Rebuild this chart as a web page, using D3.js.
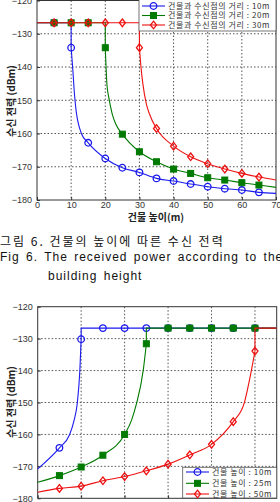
<!DOCTYPE html>
<meta charset="utf-8">
<style>

body {
  margin: 0;
  background: #fff;
}

svg {
  display: block;
  font-family: "Liberation Sans", Arial, "Noto Sans CJK KR", sans-serif;
}

.axis .tick text {
  font-size: 9px;
  fill: #333;
}

.axis .tick line,
.frame {
  stroke: #333;
}

.grid line {
  stroke: #555;
  stroke-dasharray: 1.5,2;
}

.label {
  font: bold 10px "Noto Sans CJK KR", sans-serif;
  fill: #222;
  text-anchor: middle;
}

.caption {
  font-size: 12px;
  fill: #111;
}

.legend text {
  font: 8px "Noto Sans CJK KR", sans-serif;
  fill: #333;
  letter-spacing: 0.6px;
}

</style>
<svg width="280" height="502"></svg>
<script src="https://d3js.org/d3.v7.min.js"></script>
<script>

// top chart: received power vs building height, one curve per building-receiver distance
var heights = [5, 10, 15, 20, 25, 30, 35, 40, 45, 50, 55, 60, 65];
var dist10 = [-126.7, -134.2, -162.8, -167.5, -170.3, -171.7, -173.5, -174.3, -175.2, -176.0, -176.6, -177.0, -177.7];
var dist20 = [-126.7, -126.7, -126.7, -134.2, -160.2, -165.5, -168.5, -170.7, -172.0, -173.3, -174.0, -174.8, -175.5];
var dist30 = [-126.7, -126.7, -126.7, -126.7, -126.7, -134.2, -158.5, -163.8, -167.0, -169.1, -170.7, -172.0, -173.1];
// line points between the markers (ends, corner, steep part)
var dist10Line = [[0, -126.7], [10, -126.7], [10.5, -141], [11, -148.5], [11.5, -153.5], [12, -156.5], [13, -160], [70, -178]];
var dist20Line = [[0, -126.7], [20, -126.7], [20.5, -145.5], [21, -149], [22, -154], [23, -157], [70, -176.2]];
var dist30Line = [[0, -126.7], [30, -126.7], [30.5, -140.5], [31, -145], [32, -151], [33, -154.3], [70, -174]];

// bottom chart: received power vs distance, one curve per building height
var distances = [5, 10, 15, 20, 25, 30, 35, 40, 45, 50];
var height10 = [-164.2, -130.2, -126.7, -126.7, -126.7, -126.7, -126.7, -126.7, -126.7, -126.7];
var height25 = [-172.9, -170.2, -166.5, -160.0, -131.6, -126.7, -126.7, -126.7, -126.7, -126.7];
var height50 = [-176.9, -176.2, -174.5, -173.2, -171.4, -169.3, -166.4, -163.1, -156.0, -133.9];
var height10Line = [[0, -170.8], [7.3, -160.2], [8.3, -156], [9.1, -150.3], [9.7, -140], [10, -126.7], [55, -126.7]];
var height25Line = [[0, -175], [21.6, -155.5], [22.75, -150.3], [24.3, -139.8], [25, -126.7], [55, -126.7]];
var height50Line = [[0, -178.1], [47.5, -150.3], [49.2, -139.8], [50, -126.7], [55, -126.7]];

var flatLevel = -126.7;
var yTicks = [-180, -170, -160, -150, -140, -130, -120];
var heightTicks = [0, 10, 20, 30, 40, 50, 60, 70];
var distTicks = [0, 10, 20, 30, 40, 50];
var legendTop = ["건물과 수신점의 거리 : 10m", "건물과 수신점의 거리 : 20m", "건물과 수신점의 거리 : 30m"];
var legendBottom = ["건물 높이 : 10m", "건물 높이 : 25m", "건물 높이 : 50m"];

var colors = ["#1a1aee", "#007a00", "#ee1111"],
    shapes = ["circle", "square", "diamond"];

var svg = d3.select("svg");

function marker(sel, shape, color) {
  if (shape == "circle") {
    sel.append("circle").attr("r", 3.3)
        .attr("fill", "none").attr("stroke", color).attr("stroke-width", 1.3);
  } else if (shape == "square") {
    sel.append("rect").attr("x", -3).attr("y", -3).attr("width", 6).attr("height", 6)
        .attr("fill", color).attr("stroke", color);
  } else {
    sel.append("path").attr("d", "M0,-3.8L3,0L0,3.8L-3,0Z")
        .attr("fill", "none").attr("stroke", color).attr("stroke-width", 1.3);
  }
}

function panel(box, xDomain, xTicks, showXLabels, curves, dir) {
  var x = d3.scaleLinear().domain(xDomain).range([box.left, box.right]),
      y = d3.scaleLinear().domain([-180, -120]).range([box.bottom, box.top]);

  var g = svg.append("g");

  g.append("rect").attr("x", box.left).attr("y", box.top)
      .attr("width", box.right - box.left).attr("height", box.bottom - box.top)
      .attr("fill", "#fff");

  var grid = g.append("g").attr("class", "grid");
  grid.selectAll(".gx")
    .data(xTicks.filter(function(d) { return d > xDomain[0] && d < xDomain[1]; }))
    .enter().append("line")
      .attr("x1", x).attr("x2", x).attr("y1", box.top).attr("y2", box.bottom);
  grid.selectAll(".gy")
    .data(yTicks.filter(function(d) { return d > -180 && d < -120; }))
    .enter().append("line")
      .attr("y1", y).attr("y2", y).attr("x1", box.left).attr("x2", box.right);

  g.append("g").attr("class", "axis")
      .attr("transform", "translate(" + box.left + ",0)")
      .call(d3.axisLeft(y).tickValues(yTicks).tickSizeInner(-3).tickSizeOuter(0).tickPadding(5))
      .call(function(a) { a.select(".domain").remove(); });

  g.append("g").attr("class", "axis")
      .attr("transform", "translate(0," + box.bottom + ")")
      .call(d3.axisBottom(x).tickValues(xTicks).tickSizeInner(-3).tickSizeOuter(0).tickPadding(2)
        .tickFormat(showXLabels ? d3.format("d") : function() { return ""; }))
      .call(function(a) { a.select(".domain").remove(); });

  g.append("rect").attr("class", "frame").attr("x", box.left).attr("y", box.top)
      .attr("width", box.right - box.left).attr("height", box.bottom - box.top)
      .attr("fill", "none");

  var curveLine = d3.line().x(function(d) { return x(d[0]); }).y(function(d) { return y(d[1]); })
      .curve(d3.curveMonotoneX);
  var straight = d3.line().x(function(d) { return x(d[0]); }).y(function(d) { return y(d[1]); });

  curves.forEach(function(c, i) {
    var marks = c.xs.map(function(v, j) { return [v, c.ys[j]]; });
    var pts = marks.concat(c.line).sort(function(a, b) { return (a[0] - b[0]) || dir * (a[1] - b[1]); });
    var bent = pts.filter(function(p) { return p[1] < flatLevel - 0.01; }),
        flat = pts.filter(function(p) { return p[1] >= flatLevel - 0.01; });
    var link = dir < 0 ? flat.concat([bent[0]]) : [bent[bent.length - 1]].concat(flat);

    g.append("path").attr("d", curveLine(bent))
        .attr("fill", "none").attr("stroke", colors[i]).attr("stroke-width", 1.1);
    g.append("path").attr("d", straight(link))
        .attr("fill", "none").attr("stroke", colors[i]).attr("stroke-width", 1.1);

    g.selectAll(".m" + i)
      .data(marks)
      .enter().append("g")
        .attr("transform", function(d) { return "translate(" + x(d[0]) + "," + y(d[1]) + ")"; })
        .each(function() { marker(d3.select(this), shapes[i], colors[i]); });
  });

  return g;
}

function legend(box, labels, rows, lineX, textX) {
  var lg = svg.append("g").attr("class", "legend");
  lg.append("rect").attr("x", box.left).attr("y", box.top)
      .attr("width", box.right - box.left).attr("height", box.bottom - box.top)
      .attr("fill", "#fff").attr("stroke", "#555").attr("stroke-width", 0.8);
  labels.forEach(function(t, i) {
    var row = lg.append("g").attr("transform", "translate(0," + rows[i] + ")");
    row.append("line").attr("x1", lineX[0]).attr("x2", lineX[1])
        .attr("stroke", colors[i]).attr("stroke-width", 1.1);
    marker(row.append("g").attr("transform", "translate(" + (lineX[0] + lineX[1]) / 2 + ",0)"), shapes[i], colors[i]);
    row.append("text").attr("x", textX).attr("dy", "0.35em").text(t);
  });
}

// top chart
panel({left: 37, right: 276, top: 0.5, bottom: 200}, [0, 70], heightTicks, true, [
  {xs: heights, ys: dist10, line: dist10Line},
  {xs: heights, ys: dist20, line: dist20Line},
  {xs: heights, ys: dist30, line: dist30Line}
], -1);
legend({left: 139, right: 276, top: -0.5, bottom: 31}, legendTop, [6, 15.5, 25], [142, 165], 168);

svg.append("text").attr("class", "label").attr("x", 156).attr("y", 221).text("건물 높이(m)");
svg.append("text").attr("class", "label")
    .attr("transform", "translate(11,101) rotate(-90)").attr("dy", "0.35em").text("수신 전력 (dBm)");

// caption
svg.append("text").attr("class", "caption").attr("x", 0).attr("y", 246)
    .style("font-family", "'Noto Sans CJK KR', sans-serif").style("letter-spacing", "2px")
    .text("그림 6. 건물의 높이에 따른 수신 전력");
svg.append("text").attr("class", "caption").attr("x", 0).attr("y", 261)
    .style("letter-spacing", "1px").style("word-spacing", "2px")
    .text("Fig 6. The received power according to the");
svg.append("text").attr("class", "caption").attr("x", 48).attr("y", 280)
    .style("letter-spacing", "1px").style("word-spacing", "2px")
    .text("building height");

// bottom chart
panel({left: 37.7, right: 276.7, top: 306.7, bottom: 498.3}, [0, 55], distTicks, false, [
  {xs: distances, ys: height10, line: height10Line},
  {xs: distances, ys: height25, line: height25Line},
  {xs: distances, ys: height50, line: height50Line}
], 1);
legend({left: 182.7, right: 276.7, top: 467.3, bottom: 498}, legendBottom, [472, 483.3, 494], [186, 209], 212);

svg.append("text").attr("class", "label")
    .attr("transform", "translate(11,402) rotate(-90)").attr("dy", "0.35em").text("수신 전력 (dBm)");

</script>
